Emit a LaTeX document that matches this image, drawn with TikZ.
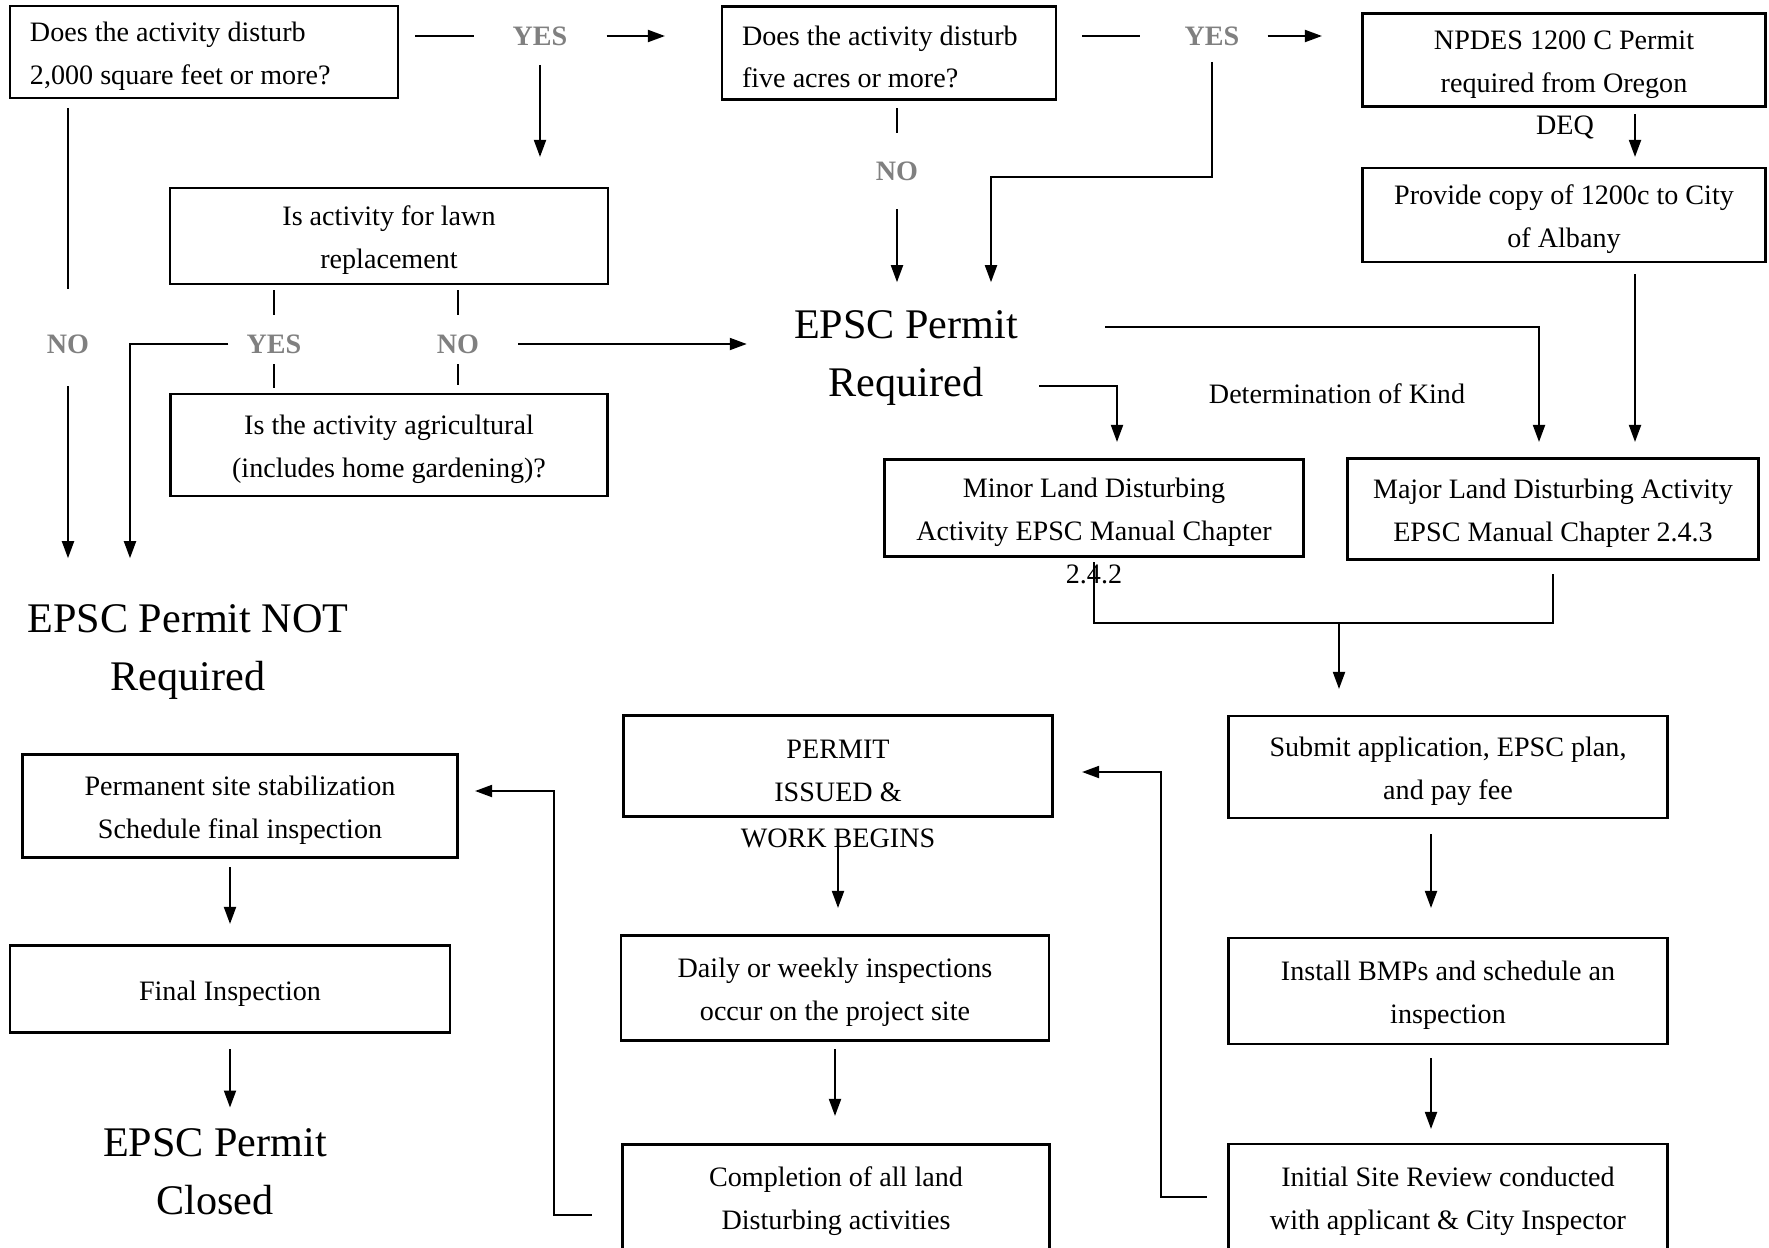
\documentclass[tikz,border=0pt]{standalone}
\usepackage{fontspec}
\setmainfont{Liberation Serif}
\usetikzlibrary{arrows.meta}

\begin{document}
\begin{tikzpicture}[x=0.2mm, y=-0.2mm]
        %style
        \tikzset{box/.style = {shape=rectangle, draw, line width=1.2pt, align=flush center, inner sep=1mm, text height=16pt, font=\fontsize{16}{24}\selectfont}}
        \tikzset{leftbox/.style = {box, align=flush left, inner xsep=4mm}}
        \tikzset{bigtext/.style = {align=center, inner sep=0pt, font=\fontsize{24}{33}\selectfont}}
        \tikzset{note/.style = {inner sep=0pt, font=\fontsize{16}{23}\selectfont}}
        \tikzset{answer/.style = {inner sep=0pt, text=black!50, font=\fontsize{16}{19}\selectfont\bfseries}}
        \tikzset{wire/.style = {line width=1.1pt}}
        \tikzset{flow/.style = {wire, -{Stealth[length=3.4mm, width=2.4mm, inset=0pt]}}}

        \useasboundingbox (0,0) rectangle (1769,1247);

        \node[leftbox, text width=69.6mm, minimum height=18.4mm] (q1) at (204,52)  {Does the activity disturb\\2,000 square feet or more?};
        \node[leftbox, text width=58.8mm, minimum height=18.6mm] (q2) at (889,53)  {Does the activity disturb\\five acres or more?};
        \node[box, text width=78.6mm, minimum height=18.6mm] (npdes)  at (1564,60)  {NPDES 1200 C Permit\\required from Oregon};
        \node[note]                                          (deq)    at (1565,127) {DEQ};
        \node[box, text width=78.6mm, minimum height=18.8mm] (copy)   at (1564,215) {Provide copy of 1200c to City\\of Albany};
        \node[box, text width=85.6mm, minimum height=19.2mm] (lawn)   at (389,236)  {Is activity for lawn\\replacement};
        \node[box, text width=85.4mm, minimum height=20.4mm] (agri)   at (389,445)  {Is the activity agricultural\\(includes home gardening)?};
        \node[bigtext]                                       (notreq) at (188,652)  {EPSC Permit NOT\\Required};
        \node[bigtext]                                       (req)    at (906,358)  {EPSC Permit\\Required};
        \node[note]                                          (kind)   at (1337,394) {Determination of Kind};
        \node[box, text width=81.8mm, minimum height=19.4mm] (minor)  at (1094,508) {Minor Land Disturbing\\Activity EPSC Manual Chapter};
        \node[note]                                          (chap)   at (1094,574) {2.4.2};
        \node[box, text width=80.2mm, minimum height=20.2mm] (major)  at (1553,509) {Major Land Disturbing Activity\\EPSC Manual Chapter 2.4.3};
        \node[box, text width=85.8mm, minimum height=20.4mm] (submit) at (1448,767) {Submit application, EPSC plan,\\and pay fee};
        \node[box, text width=85.8mm, minimum height=21.2mm] (bmp)    at (1448,991) {Install BMPs and schedule an\\inspection};
        \node[box, text width=85.8mm, minimum height=21.2mm] (review) at (1448,1197) {Initial Site Review conducted\\with applicant \& City Inspector};
        \node[box, text width=83.8mm, minimum height=20.2mm] (issued) at (838,766)  {PERMIT\\ISSUED \&};
        \node[note]                                          (work)   at (838,838)  {WORK BEGINS};
        \node[box, text width=83.6mm, minimum height=21mm]   (daily)  at (835,988)  {Daily or weekly inspections\\occur on the project site};
        \node[box, text width=83.4mm, minimum height=21mm]   (done)   at (836,1197) {Completion of all land\\Disturbing activities};
        \node[box, text width=85mm, minimum height=20.6mm]   (stabil) at (240,806)  {Permanent site stabilization\\Schedule final inspection};
        \node[box, text width=86mm, minimum height=17.4mm]   (final)  at (230,989)  {Final Inspection};
        \node[bigtext]                                       (closed) at (215,1172) {EPSC Permit\\Closed};

        % answers
        \node[answer] (yesA) at (540,36)  {YES};
        \node[answer] (yesB) at (1212,36) {YES};
        \node[answer] (noA)  at (897,171) {NO};
        \node[answer] (noB)  at (68,344)  {NO};
        \node[answer] (yesC) at (274,344) {YES};
        \node[answer] (noC)  at (458,344) {NO};

        % bends
        \coordinate (kneeB)  at (991,177);
        \coordinate (kneeC)  at (130,344);
        \coordinate (kneeR)  at (1539,327);
        \coordinate (kneeM)  at (1117,386);
        \coordinate (joinpt) at (1339,623);
        \coordinate (kneeI)  at (1161,772);
        \coordinate (kneeS)  at (554,791);

        % first question
        \draw[wire, shorten <=3.2mm, shorten >=7.6mm] (q1.east |- yesA) -- (yesA.west);
        \draw[flow, shorten <=7.8mm, shorten >=11.2mm] (yesA.east) -- (q2.west |- yesA);
        \draw[flow, shorten <=3.8mm, shorten >=6mm] (yesA.south) -- (yesA.south |- lawn.north);
        \draw[wire, shorten <=1.8mm, shorten >=9.1mm] (noB |- q1.south) -- (noB.north);
        \draw[flow, shorten <=6.5mm, shorten >=9.2mm] (noB.south) -- (noB.south |- notreq.north);

        % second question
        \draw[wire, shorten <=5mm, shorten >=8.8mm] (q2.east |- yesB) -- (yesB.west);
        \draw[flow, shorten <=5.6mm, shorten >=7.9mm] (yesB.east) -- (npdes.west |- yesB);
        \draw[flow, shorten <=3.2mm, shorten >=5.6mm] (yesB.south) |- (kneeB) -- (kneeB |- req.north);
        \draw[wire, shorten <=1.5mm, shorten >=5.7mm] (noA.north |- q2.south) -- (noA.north);
        \draw[flow, shorten <=5.7mm, shorten >=5.6mm] (noA.south) -- (noA.south |- req.north);

        % NPDES branch
        \draw[flow, shorten <=1.3mm, shorten >=2mm] ([xshift=14.2mm]npdes.south) -- ([xshift=14.2mm]copy.north);
        \draw[flow, shorten <=2.2mm, shorten >=3.1mm] ([xshift=14.2mm]copy.south) -- ([xshift=14.2mm]copy.south |- major.north);

        % lawn and agricultural
        \draw[wire, shorten <=1mm, shorten >=3.9mm] (yesC |- lawn.south) -- (yesC.north);
        \draw[wire, shorten <=1mm, shorten >=3.9mm] (noC |- lawn.south) -- (noC.north);
        \draw[wire, shorten <=2.1mm, shorten >=1mm] (yesC.south) -- (yesC |- agri.north);
        \draw[wire, shorten <=2.1mm, shorten >=1.6mm] (noC.south) -- (noC |- agri.north);
        \draw[flow, shorten <=3.6mm, shorten >=9.2mm] (yesC.west) -- (kneeC) -- (kneeC |- notreq.north);
        \draw[flow, shorten <=7.8mm, shorten >=9.4mm] (noC.east) -- (req.west |- noC);

        % kind of activity
        \draw[flow, shorten <=17.4mm, shorten >=3.1mm] (req.east |- kneeR) -- (kneeR) -- (kneeR |- major.north);
        \draw[flow, shorten <=4.2mm, shorten >=3.3mm] (req.east |- kneeM) -- (kneeM) -- (kneeM |- minor.north);
        \draw[wire, shorten <=0.9mm, shorten >=2.7mm] (minor.south) -- (minor.south |- joinpt) -- (major.south |- joinpt) -- (major.south);
        \draw[flow, shorten >=5.2mm] (joinpt) -- (joinpt |- submit.north);

        % application
        \draw[flow, shorten <=3mm, shorten >=5.8mm] ([xshift=-3.4mm]submit.south) -- ([xshift=-3.4mm]bmp.north);
        \draw[flow, shorten <=2.6mm, shorten >=2.8mm] ([xshift=-3.4mm]bmp.south) -- ([xshift=-3.4mm]review.north);
        \draw[flow, shorten <=4.1mm, shorten >=5.7mm] (review.west) -| (kneeI) -- (issued.east |- kneeI);

        % work
        \draw[flow, shorten <=3.1mm, shorten >=5.3mm] (issued.south) -- (issued.south |- daily.north);
        \draw[flow, shorten <=1.5mm, shorten >=5.5mm] (daily.south) -- (daily.south |- done.north);
        \draw[flow, shorten <=5.9mm, shorten >=3.3mm] ([yshift=-3.6mm]done.west) -| (kneeS) -- (stabil.east |- kneeS);

        % closing
        \draw[flow, shorten <=1.7mm, shorten >=4.1mm] (final.north |- stabil.south) -- (final.north);
        \draw[flow, shorten <=3.1mm, shorten >=4.2mm] (final.south) -- (final.south |- closed.north);
\end{tikzpicture}
\end{document}
